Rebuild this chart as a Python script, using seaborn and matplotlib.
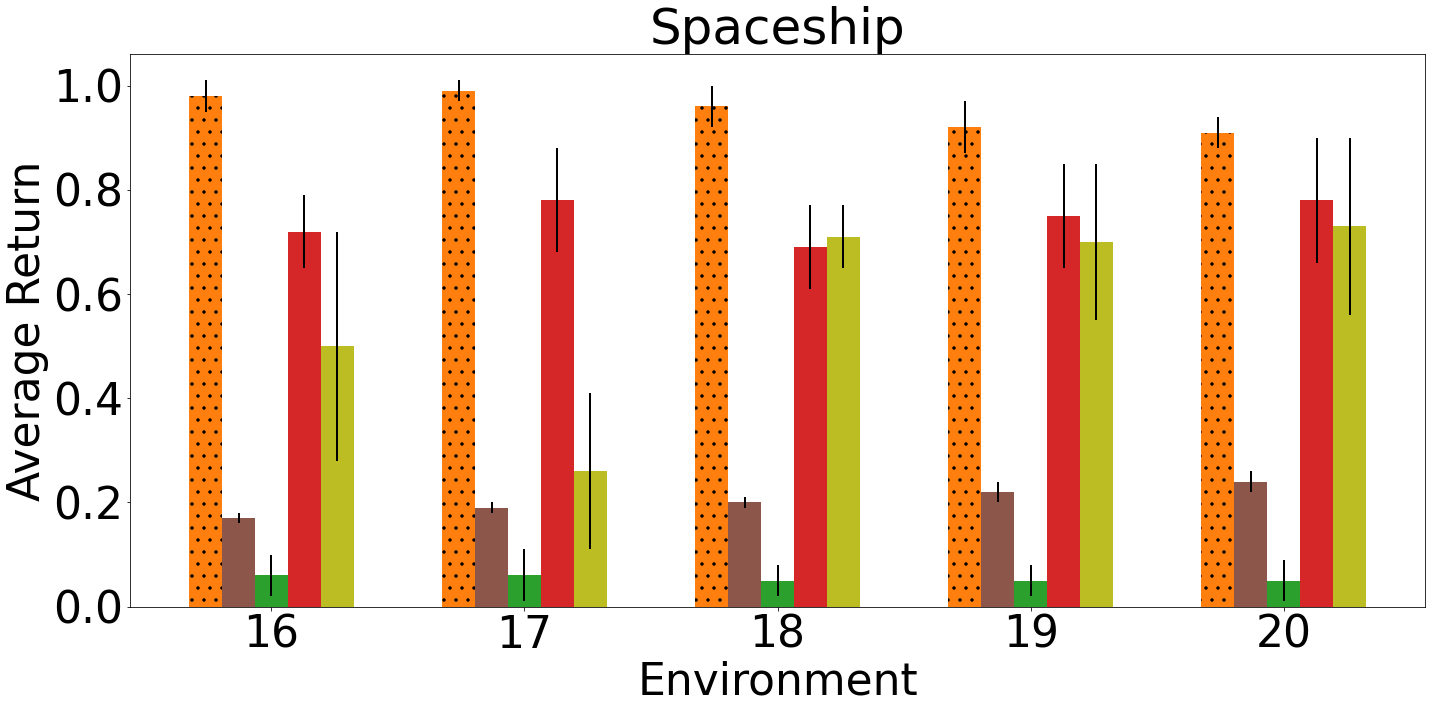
import matplotlib
matplotlib.use("Agg")
import matplotlib.pyplot as plt
import seaborn as sns
import pandas as pd

# values
environments = ["16", "17", "18", "19", "20"]
methods = ["method_1", "method_2", "method_3", "method_4", "method_5"]
colors = ["tab:orange", "tab:brown", "tab:green", "tab:red", "tab:olive"]

method_1 = [0.98, 0.99, 0.96, 0.92, 0.91]
method_1_err = [0.03, 0.02, 0.04, 0.05, 0.03]
method_2 = [0.17, 0.19, 0.20, 0.22, 0.24]
method_2_err = [0.01, 0.01, 0.01, 0.02, 0.02]
method_3 = [0.06, 0.06, 0.05, 0.05, 0.05]
method_3_err = [0.04, 0.05, 0.03, 0.03, 0.04]
method_4 = [0.72, 0.78, 0.69, 0.75, 0.78]
method_4_err = [0.07, 0.10, 0.08, 0.10, 0.12]
method_5 = [0.50, 0.26, 0.71, 0.70, 0.73]
method_5_err = [0.22, 0.15, 0.06, 0.15, 0.17]

means = [method_1, method_2, method_3, method_4, method_5]
errors = [method_1_err, method_2_err, method_3_err, method_4_err, method_5_err]

rows = []
for name, vals in zip(methods, means):
    for env, v in zip(environments, vals):
        rows.append({"Environment": env, "Average Return": v, "method": name})
df = pd.DataFrame(rows)

palette = dict(zip(methods, colors))

FS = 44
DPI = 72
fig, ax = plt.subplots(figsize=(1432 / DPI, 712 / DPI), dpi=DPI)
sns.barplot(data=df, x="Environment", y="Average Return", hue="method",
            hue_order=methods, palette=palette,
            width=0.65, saturation=1, errorbar=None, legend=False, ax=ax)

containers = [c for c in ax.containers if len(c) > 0]
for i, cont in enumerate(containers):
    xs = [b.get_x() + b.get_width() / 2 for b in cont]
    ys = [b.get_height() for b in cont]
    for b in cont:
        b.set_linewidth(0)
        if i == 0:
            b.set_hatch(".")
            b.set_edgecolor("black")
    ax.errorbar(xs, ys, yerr=errors[i], fmt="none", ecolor="black",
                elinewidth=2, capsize=0)

# matplotlib-like 5% margins around the bars
lefts = [p.get_x() for p in ax.patches]
rights = [p.get_x() + p.get_width() for p in ax.patches]
lo, hi = min(lefts), max(rights)
pad = 0.05 * (hi - lo)
ax.set_xlim(lo - pad, hi + pad)
ax.autoscale(axis="y")

ax.set_title("Spaceship", fontsize=50)
ax.set_xlabel("Environment", fontsize=FS)
ax.set_ylabel("Average Return", fontsize=FS)
ax.tick_params(labelsize=FS)

fig.subplots_adjust(left=0.091, right=0.995, bottom=0.148, top=0.924)
fig.savefig("out.png", dpi=DPI)
